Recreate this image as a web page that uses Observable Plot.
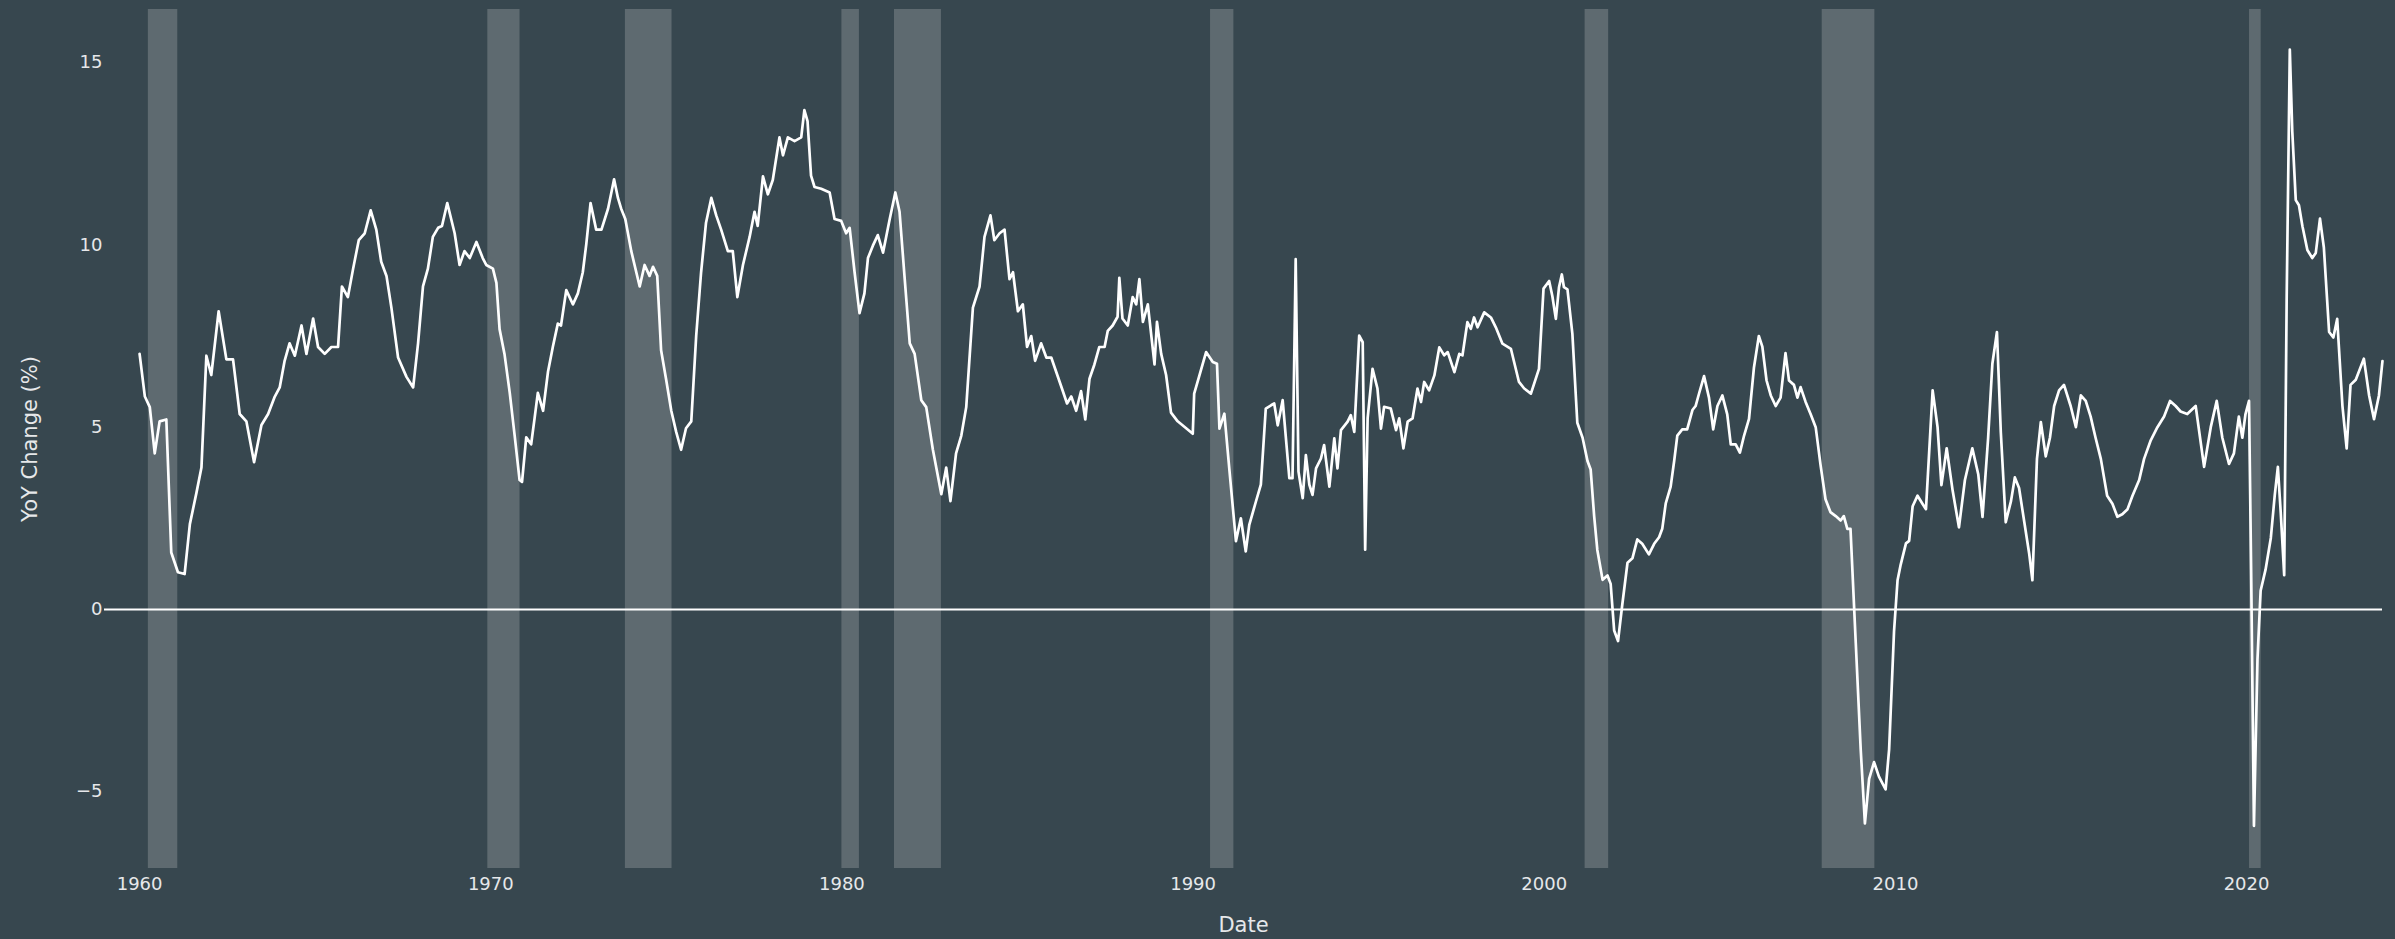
<!DOCTYPE html>
<html>
<head>
<meta charset="utf-8">
<script src="https://cdn.jsdelivr.net/npm/d3@7"></script>
<script src="https://cdn.jsdelivr.net/npm/@observablehq/plot@0.6"></script>
<style>
html, body { margin: 0; padding: 0; background: #37474f; }
#chart { width: 2395px; height: 939px; }
</style>
</head>
<body>
<div id="chart"></div>
<script>
// Decimal-year dates and YoY change (%)
const dates = [
1960.0,1960.15,1960.29,1960.43,1960.57,1960.76,1960.9,1961.09,1961.28,1961.43,1961.62,1961.76,1961.9,1962.04,1962.25,1962.47,1962.66,1962.85,1963.04,1963.26,1963.47,1963.66,1963.85,1963.99,1964.13,1964.27,1964.42,1964.61,1964.75,1964.94,1965.08,1965.27,1965.46,1965.65,1965.76,1965.93,1966.08,1966.24,1966.41,1966.58,1966.74,1966.88,1967.03,1967.17,1967.36,1967.6,1967.79,1967.93,1968.07,1968.21,1968.35,1968.5,1968.61,1968.76,1968.97,1969.11,1969.25,1969.4,1969.59,1969.77,1969.87,
1970.06,1970.16,1970.25,1970.39,1970.54,1970.68,1970.82,1970.89,1971.01,1971.15,1971.25,1971.34,1971.49,1971.63,1971.77,1971.91,1972.0,1972.15,1972.34,1972.48,1972.62,1972.72,1972.84,1973.0,1973.15,1973.34,1973.51,1973.62,1973.71,1973.83,1974.0,1974.24,1974.38,1974.52,1974.62,1974.74,1974.85,1974.99,1975.14,1975.28,1975.42,1975.56,1975.71,1975.85,1975.99,1976.13,1976.28,1976.42,1976.56,1976.75,1976.89,1977.02,1977.18,1977.37,1977.51,1977.6,1977.75,1977.89,1978.03,1978.22,1978.32,1978.46,1978.65,1978.84,1978.93,1979.02,1979.12,1979.22,1979.41,1979.65,1979.79,1979.98,
1980.12,1980.22,1980.36,1980.5,1980.64,1980.74,1980.88,1981.02,1981.17,1981.36,1981.52,1981.64,1981.78,1981.93,1982.07,1982.26,1982.4,1982.59,1982.83,1982.97,1983.09,1983.25,1983.4,1983.54,1983.73,1983.92,1984.06,1984.23,1984.34,1984.49,1984.63,1984.77,1984.87,1985.01,1985.15,1985.27,1985.39,1985.5,1985.67,1985.82,1985.96,1986.1,1986.24,1986.41,1986.53,1986.67,1986.81,1986.93,1987.05,1987.19,1987.33,1987.48,1987.57,1987.71,1987.85,1987.9,1987.99,1988.14,1988.28,1988.38,1988.47,1988.57,1988.71,1988.9,1988.97,1989.09,1989.23,1989.37,1989.56,1989.75,1989.99,
1990.03,1990.18,1990.37,1990.56,1990.68,1990.75,1990.89,1991.03,1991.22,1991.36,1991.5,1991.6,1991.79,1991.93,1992.07,1992.22,1992.31,1992.41,1992.55,1992.74,1992.83,1992.92,1993.0,1993.12,1993.21,1993.31,1993.4,1993.5,1993.64,1993.73,1993.88,1994.02,1994.11,1994.21,1994.4,1994.49,1994.59,1994.73,1994.83,1994.9,1994.97,1995.11,1995.25,1995.35,1995.44,1995.63,1995.78,1995.87,1995.99,1996.11,1996.25,1996.39,1996.49,1996.58,1996.72,1996.87,1997.01,1997.15,1997.25,1997.44,1997.58,1997.67,1997.81,1997.91,1998.0,1998.1,1998.29,1998.48,1998.62,1998.81,1999.05,1999.28,1999.43,1999.62,1999.85,
1999.98,2000.14,2000.23,2000.33,2000.42,2000.5,2000.56,2000.66,2000.8,2000.94,2001.09,2001.23,2001.32,2001.42,2001.51,2001.66,2001.8,2001.89,2001.99,2002.1,2002.22,2002.37,2002.51,2002.65,2002.79,2002.98,2003.13,2003.27,2003.36,2003.46,2003.6,2003.7,2003.79,2003.93,2004.07,2004.22,2004.31,2004.41,2004.55,2004.69,2004.81,2004.93,2005.07,2005.21,2005.31,2005.45,2005.57,2005.69,2005.83,2005.97,2006.11,2006.21,2006.33,2006.45,2006.59,2006.73,2006.87,2006.97,2007.11,2007.21,2007.3,2007.44,2007.59,2007.73,2007.87,2008.01,2008.15,2008.3,2008.44,2008.53,2008.63,2008.72,2008.87,2009.01,2009.13,2009.25,2009.39,2009.53,2009.72,2009.82,2009.96,
2010.06,2010.15,2010.3,2010.39,2010.49,2010.63,2010.77,2010.87,2011.06,2011.2,2011.31,2011.46,2011.63,2011.81,2011.98,2012.19,2012.36,2012.48,2012.64,2012.76,2012.89,2013.0,2013.14,2013.29,2013.4,2013.52,2013.67,2013.81,2013.9,2014.03,2014.14,2014.28,2014.4,2014.52,2014.66,2014.8,2014.99,2015.14,2015.28,2015.42,2015.56,2015.7,2015.85,2016.03,2016.18,2016.32,2016.46,2016.61,2016.75,2016.94,2017.08,2017.27,2017.46,2017.65,2017.82,2017.98,2018.12,2018.31,2018.55,2018.79,2018.98,2019.15,2019.31,2019.5,2019.64,2019.78,2019.88,2019.97,2020.07,2020.13,2020.21,2020.31,2020.4,2020.54,2020.69,2020.8,2020.89,2020.97,2021.07,2021.14,2021.23,2021.3,2021.4,2021.49,2021.59,2021.73,2021.87,2021.97,2022.09,2022.2,2022.35,2022.47,2022.58,2022.73,2022.85,2022.96,2023.11,2023.34,2023.49,2023.63,2023.77,2023.87
];
const values = [
7.01,5.84,5.55,4.28,5.16,5.21,1.56,1.02,0.97,2.34,3.21,3.89,6.96,6.43,8.18,6.86,6.86,5.36,5.16,4.04,5.06,5.36,5.84,6.09,6.82,7.3,6.96,7.79,7.01,7.98,7.2,7.01,7.2,7.2,8.86,8.57,9.35,10.13,10.32,10.95,10.42,9.54,9.15,8.28,6.91,6.38,6.09,7.3,8.86,9.35,10.22,10.47,10.52,11.15,10.32,9.45,9.83,9.64,10.08,9.64,9.45,
9.35,8.96,7.69,7.01,5.94,4.77,3.55,3.5,4.72,4.53,5.26,5.94,5.45,6.52,7.21,7.84,7.79,8.76,8.37,8.67,9.25,10.03,11.15,10.42,10.42,11.0,11.8,11.29,11.0,10.71,9.83,8.86,9.45,9.15,9.4,9.15,7.11,6.33,5.45,4.87,4.38,4.97,5.16,7.5,9.25,10.61,11.29,10.81,10.42,9.83,9.83,8.57,9.45,10.22,10.91,10.52,11.88,11.39,11.78,12.95,12.46,12.95,12.85,12.95,13.7,13.4,11.9,11.59,11.54,11.44,10.71,10.66,
10.32,10.47,9.25,8.13,8.67,9.64,9.98,10.27,9.79,10.71,11.44,10.91,9.15,7.3,7.01,5.74,5.55,4.38,3.16,3.89,2.97,4.28,4.77,5.55,8.28,8.86,10.22,10.81,10.13,10.32,10.42,9.06,9.25,8.18,8.37,7.2,7.5,6.82,7.3,6.91,6.91,6.52,6.13,5.65,5.84,5.45,5.99,5.21,6.33,6.72,7.2,7.2,7.64,7.79,8.03,9.1,7.98,7.79,8.57,8.37,9.06,7.89,8.37,6.72,7.89,7.01,6.43,5.4,5.16,5.01,4.82,
5.92,6.42,7.06,6.79,6.74,4.96,5.37,3.87,1.87,2.5,1.59,2.32,2.96,3.42,5.51,5.6,5.65,5.05,5.74,3.6,3.6,9.61,3.78,3.05,4.23,3.42,3.14,3.87,4.14,4.51,3.37,4.69,3.87,4.92,5.15,5.33,4.87,7.51,7.33,1.64,5.24,6.6,6.06,4.96,5.56,5.51,4.92,5.24,4.42,5.15,5.24,6.06,5.69,6.24,6.01,6.42,7.19,6.97,7.06,6.51,7.01,6.97,7.88,7.7,8.01,7.74,8.15,8.01,7.74,7.29,7.15,6.24,6.06,5.92,6.6,
8.8,9.01,8.6,7.97,8.84,9.19,8.84,8.78,7.56,5.12,4.71,4.07,3.84,2.56,1.63,0.81,0.93,0.7,-0.58,-0.87,0.12,1.28,1.4,1.92,1.8,1.51,1.8,1.98,2.21,2.91,3.37,4.07,4.77,4.94,4.94,5.47,5.58,5.93,6.4,5.81,4.94,5.58,5.87,5.35,4.53,4.53,4.3,4.77,5.23,6.63,7.5,7.21,6.28,5.87,5.58,5.81,7.03,6.28,6.16,5.81,6.1,5.7,5.35,5.0,3.95,3.02,2.67,2.56,2.44,2.56,2.21,2.21,-0.93,-3.84,-5.87,-4.65,-4.19,-4.59,-4.94,-3.84,-0.6,
0.8,1.23,1.81,1.88,2.83,3.12,2.9,2.75,6.01,5.0,3.41,4.42,3.26,2.25,3.55,4.42,3.7,2.54,4.71,6.74,7.61,4.86,2.39,2.97,3.62,3.33,2.39,1.52,0.8,4.13,5.14,4.2,4.71,5.58,6.01,6.16,5.58,5.0,5.87,5.72,5.29,4.71,4.13,3.12,2.9,2.54,2.61,2.75,3.12,3.55,4.13,4.64,5.0,5.29,5.72,5.58,5.43,5.36,5.58,3.91,5.0,5.72,4.71,3.99,4.28,5.29,4.71,5.36,5.72,1.09,-5.94,-1.38,0.51,1.09,1.96,3.12,3.91,2.68,0.94,8.48,15.36,13.12,11.23,11.09,10.51,9.86,9.64,9.78,10.72,9.93,7.61,7.46,7.97,5.58,4.42,6.16,6.3,6.88,5.87,5.22,5.87,6.81
];
// Shaded recession periods
const recessionStarts = ["1960-04-01","1969-12-01","1973-11-01","1980-01-01","1981-07-01","1990-07-01","2001-03-01","2007-12-01","2020-02-01"];
const recessionEnds   = ["1961-02-01","1970-11-01","1975-03-01","1980-07-01","1982-11-01","1991-03-01","2001-11-01","2009-06-01","2020-06-01"];
// Axis ticks and titles
const xTickYears = [1960, 1970, 1980, 1990, 2000, 2010, 2020];
const yTicks = [-5, 0, 5, 10, 15];
const xTitle = ["Date"];
const yTitle = ["YoY Change (%)"];

function decToDate(y) {
  const yr = Math.floor(y);
  const s = Date.UTC(yr, 0, 1), e = Date.UTC(yr + 1, 0, 1);
  return new Date(s + (y - yr) * (e - s));
}
const series = dates.map((d, i) => ({date: decToDate(d), value: values[i]}));
const recessions = recessionStarts.map((s, i) => ({start: new Date(s), end: new Date(recessionEnds[i])}));

const chart = Plot.plot({
  width: 2395,
  height: 939,
  marginLeft: 104,
  marginRight: 13,
  marginTop: 9,
  marginBottom: 71,
  style: {background: "#37474f", color: "#e6e8ea", fontFamily: "'DejaVu Sans', Verdana, sans-serif", fontSize: "18px"},
  x: {
    type: "utc",
    domain: [new Date("1959-01-01"), new Date("2023-11-15")],
    ticks: xTickYears.map(y => new Date(Date.UTC(y, 0, 1))),
    tickFormat: "%Y",
    tickSize: 0,
    tickPadding: 9,
    label: null
  },
  y: {
    domain: [-7.11, 16.46],
    ticks: yTicks,
    tickSize: 0,
    tickPadding: 2,
    label: null
  },
  marks: [
    Plot.rect(recessions, {x1: "start", x2: "end", fill: "#d3d3d3", fillOpacity: 0.25}),
    Plot.ruleY([0], {stroke: "#ffffff", strokeWidth: 2}),
    Plot.line(series, {x: "date", y: "value", stroke: "#ffffff", strokeWidth: 2.7, strokeLinejoin: "round"}),
    Plot.text(yTitle, {text: d => d, frameAnchor: "left", dx: -74, rotate: -90, textAnchor: "middle", lineAnchor: "middle", fontSize: 21, fill: "#e6e8ea"}),
    Plot.text(xTitle, {text: d => d, frameAnchor: "bottom", dy: 57, textAnchor: "middle", lineAnchor: "middle", fontSize: 21, fill: "#e6e8ea"})
  ]
});
document.getElementById("chart").appendChild(chart);
</script>
</body>
</html>
